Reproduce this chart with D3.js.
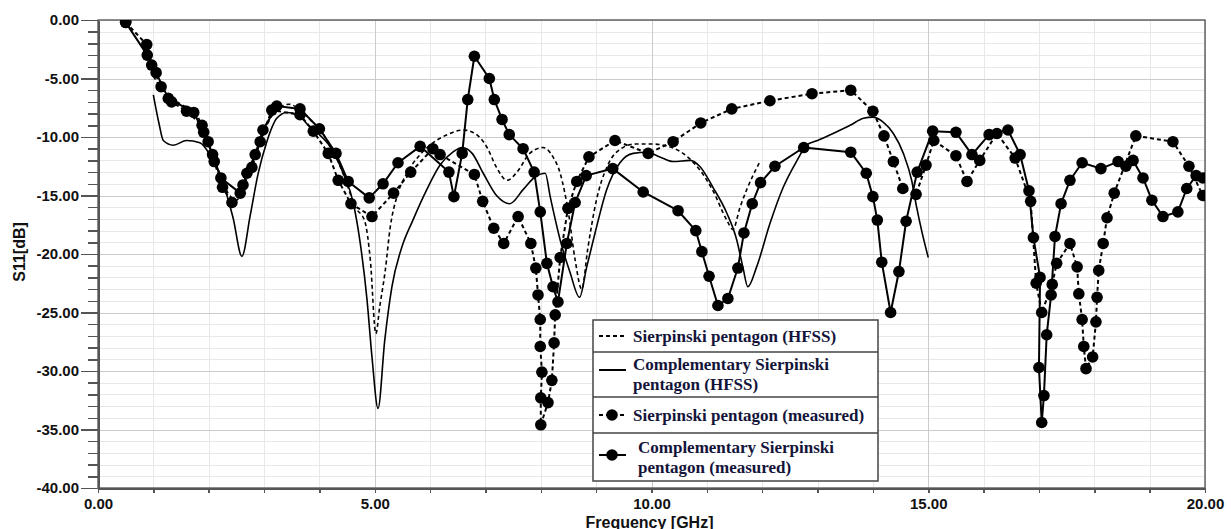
<!DOCTYPE html>
<html>
<head>
<meta charset="utf-8">
<script src="https://cdn.jsdelivr.net/npm/d3@7"></script>
<style>
  body {
    margin: 0;
    background: #ffffff;
  }

  svg {
    display: block;
  }

  .axis text {
    font-family: 'Liberation Sans', Arial, sans-serif;
    font-size: 15px;
    font-weight: bold;
    fill: #111111;
  }

  .axis-title {
    font-family: 'Liberation Sans', Arial, sans-serif;
    font-size: 16px;
    font-weight: bold;
    fill: #111111;
  }

  .axis path,
  .axis line {
    stroke: #555555;
    stroke-width: 1.5px;
    shape-rendering: crispEdges;
  }

  .axis .domain {
    stroke-width: 2px;
  }

  .grid path {
    stroke: none;
  }

  .grid-minor line {
    stroke: #e8e8e8;
    shape-rendering: crispEdges;
  }

  .grid-major line {
    stroke: #cbcbcb;
    shape-rendering: crispEdges;
  }

  .legend-text {
    font-family: 'Liberation Serif', 'Times New Roman', serif;
    font-size: 17px;
    font-weight: bold;
    fill: #14143a;
  }
</style>
</head>
<body>
<svg id="SVG" width="1231" height="529"></svg>
<script>
// S11 data (GHz, dB)
const hfssSierpFreq = [1.0, 1.2, 1.5, 1.75, 1.95, 2.15, 2.35, 2.5, 2.65, 2.85, 3.05, 3.25, 3.45, 3.65, 3.85, 4.05, 4.25, 4.45, 4.65, 4.82, 4.92, 5.02, 5.09, 5.19, 5.28, 5.4, 5.58, 5.82, 6.05, 6.31, 6.6, 6.81, 7.03, 7.2, 7.39, 7.57, 7.8, 8.04, 8.22, 8.35, 8.5, 8.62, 8.74, 8.85, 9.0, 9.2, 9.45, 9.7, 10.0, 10.3, 10.57, 10.87, 11.1, 11.36, 11.47, 11.6, 11.72, 11.96];
const hfssSierpDb = [-4.8, -6.2, -7.2, -7.9, -9.8, -12.5, -14.8, -15.4, -14.0, -11.5, -9.0, -7.6, -7.2, -7.7, -8.6, -9.6, -11.2, -13.4, -16.0, -17.2, -20.5, -26.8, -24.5, -21.4, -17.7, -15.1, -13.1, -11.5, -10.5, -9.8, -9.4, -9.7, -10.9, -12.6, -13.7, -13.0, -11.4, -10.9, -11.7, -13.1, -16.5, -20.5, -23.0, -19.5, -15.5, -12.5, -11.0, -10.6, -10.6, -10.8, -11.4, -12.8, -14.5, -17.1, -17.9, -16.0, -14.5, -12.1];

const hfssCompFreq = [1.0, 1.1, 1.18, 1.36, 1.6, 1.84, 2.02, 2.2, 2.33, 2.44, 2.6, 2.75, 2.89, 3.05, 3.23, 3.41, 3.61, 3.8, 4.0, 4.16, 4.43, 4.61, 4.72, 4.86, 4.95, 5.06, 5.18, 5.31, 5.49, 5.69, 5.94, 6.18, 6.41, 6.58, 6.76, 6.96, 7.2, 7.44, 7.68, 7.9, 8.08, 8.17, 8.35, 8.53, 8.7, 8.83, 8.98, 9.19, 9.43, 9.67, 9.92, 10.15, 10.39, 10.7, 10.87, 11.11, 11.36, 11.54, 11.65, 11.74, 11.9, 12.14, 12.38, 12.63, 12.8, 13.0, 13.28, 13.59, 13.83, 14.0, 14.18, 14.37, 14.55, 14.7, 14.79, 14.89, 15.0];
const hfssCompDb = [-6.4, -8.8, -10.3, -10.7, -10.3, -10.5, -11.5, -13.2, -15.0, -16.9, -20.2, -16.7, -13.2, -10.4, -8.4, -7.9, -8.1, -9.0, -9.8, -10.6, -13.1, -15.6, -18.5, -23.9, -28.8, -33.2, -27.4, -22.8, -19.4, -17.1, -14.5, -12.4, -11.3, -10.9, -11.4, -13.1, -15.0, -15.7, -14.5, -13.4, -13.1, -15.1, -18.8, -21.6, -23.7, -21.1, -18.2, -14.5, -12.2, -11.4, -11.3, -11.7, -12.1, -12.0, -12.5, -14.3, -16.5, -18.8, -21.1, -22.8, -21.1, -17.4, -14.3, -12.0, -10.7, -10.3, -9.7, -9.0, -8.4, -8.3, -8.7, -9.7, -11.4, -13.7, -16.0, -18.2, -20.3];

const measSierpFreq = [0.5, 0.88, 0.97, 1.14, 1.33, 1.6, 1.88, 1.99, 2.1, 2.25, 2.42, 2.62, 2.78, 2.93, 3.14, 3.65, 3.89, 4.16, 4.34, 4.57, 4.95, 5.34, 5.65, 6.05, 6.18, 6.8, 6.95, 7.15, 7.33, 7.59, 7.82, 7.91, 7.95, 7.99, 7.99, 8.02, 8.0, 8.0, 8.13, 8.2, 8.24, 8.26, 8.35, 8.49, 8.65, 8.87, 9.34, 9.94, 10.39, 10.89, 11.45, 12.14, 12.9, 13.6, 14.0, 14.2, 14.37, 14.54, 14.78, 14.96, 15.1, 15.5, 15.7, 15.93, 16.24, 16.57, 16.85, 16.95, 17.05, 17.24, 17.32, 17.56, 17.69, 17.72, 17.78, 17.81, 17.85, 17.97, 18.03, 18.05, 18.08, 18.16, 18.23, 18.36, 18.75, 19.42, 19.71, 19.96];
const measSierpDb = [-0.2, -2.1, -3.85, -5.7, -7.0, -7.8, -9.0, -10.4, -12.1, -14.3, -15.6, -14.1, -12.6, -10.4, -7.7, -8.1, -9.5, -11.4, -13.7, -15.7, -16.8, -14.8, -13.0, -11.0, -11.5, -13.2, -15.5, -17.8, -19.1, -16.8, -19.1, -21.2, -23.5, -25.6, -27.9, -30.1, -32.3, -34.6, -32.7, -30.8, -27.6, -25.2, -20.3, -16.1, -13.8, -11.7, -10.3, -11.4, -10.4, -8.8, -7.6, -6.9, -6.3, -6.0, -7.8, -9.9, -12.1, -14.4, -14.9, -12.4, -10.3, -11.6, -13.8, -12.0, -9.7, -11.8, -15.5, -22.5, -25.0, -22.6, -20.8, -19.1, -21.1, -23.4, -25.6, -27.9, -29.8, -28.8, -25.8, -23.7, -21.4, -19.1, -16.9, -14.8, -9.9, -10.4, -12.5, -15.0];

const measCompFreq = [0.5, 0.89, 1.05, 1.27, 1.73, 1.91, 2.07, 2.22, 2.57, 2.69, 2.84, 2.98, 3.23, 3.65, 4.0, 4.3, 4.52, 4.9, 5.15, 5.42, 5.82, 6.34, 6.43, 6.58, 6.68, 6.8, 7.07, 7.16, 7.3, 7.43, 7.68, 7.88, 7.99, 8.11, 8.22, 8.31, 8.47, 8.62, 8.82, 9.3, 9.85, 10.48, 10.8, 10.91, 11.04, 11.2, 11.38, 11.56, 11.67, 11.82, 11.97, 12.23, 12.75, 13.6, 13.88, 14.0, 14.08, 14.16, 14.32, 14.47, 14.6, 14.8, 15.08, 15.5, 15.79, 16.1, 16.44, 16.66, 16.82, 16.9, 17.02, 17.0, 17.05, 17.09, 17.14, 17.22, 17.29, 17.4, 17.56, 17.78, 18.12, 18.43, 18.57, 18.7, 18.88, 19.04, 19.24, 19.51, 19.67, 19.84, 19.96];
const measCompDb = [-0.2, -3.0, -4.5, -6.7, -7.9, -9.6, -11.5, -13.5, -14.8, -13.1, -11.5, -9.4, -7.35, -7.6, -9.3, -11.4, -13.8, -15.2, -14.0, -12.2, -10.8, -13.0, -15.1, -11.4, -6.8, -3.1, -5.0, -6.8, -8.5, -9.8, -11.0, -13.0, -16.4, -20.8, -22.8, -24.1, -19.1, -15.6, -13.3, -12.7, -14.7, -16.3, -18.0, -19.8, -21.9, -24.4, -23.8, -21.2, -18.2, -15.7, -13.9, -12.5, -10.9, -11.3, -13.1, -15.1, -17.1, -20.7, -25.0, -21.5, -17.2, -13.0, -9.5, -9.6, -11.5, -9.8, -9.4, -11.5, -14.6, -18.6, -22.0, -29.7, -34.4, -32.1, -26.9, -23.5, -18.5, -15.7, -13.7, -12.2, -12.7, -12.1, -12.5, -12.0, -13.5, -15.4, -16.8, -16.4, -14.4, -13.3, -13.5];

const xTicks = [0, 5, 10, 15, 20];
const yTicks = [0, -5, -10, -15, -20, -25, -30, -35, -40];

const legendLabels = [
  ['Sierpinski pentagon (HFSS)'],
  ['Complementary Sierpinski', 'pentagon (HFSS)'],
  ['Sierpinski pentagon (measured)'],
  ['Complementary Sierpinski', 'pentagon (measured)'],
];

const series = [
  { freq: hfssSierpFreq, db: hfssSierpDb, dash: '4,3', marker: false, width: 1.6 },
  { freq: hfssCompFreq, db: hfssCompDb, dash: null, marker: false, width: 1.6 },
  { freq: measSierpFreq, db: measSierpDb, dash: '4,3', marker: true, width: 2 },
  { freq: measCompFreq, db: measCompDb, dash: null, marker: true, width: 2 },
];

const svg = d3.select('#SVG');
const margin = { top: 20, right: 26, bottom: 41, left: 98 };
const width = +svg.attr('width') - margin.left - margin.right;
const height = +svg.attr('height') - margin.top - margin.bottom;

const x = d3.scaleLinear().domain([0, 20]).range([0, width]);
const y = d3.scaleLinear().domain([-40, 0]).range([height, 0]);

const g = svg
  .append('g')
  .attr('transform', 'translate(' + margin.left + ',' + margin.top + ')');

function setGrid() {
  g.append('g')
    .attr('class', 'grid grid-minor')
    .call(d3.axisLeft(y).tickValues(d3.range(-40, 1)).tickSize(-width).tickFormat(''));
  g.append('g')
    .attr('class', 'grid grid-minor')
    .attr('transform', 'translate(0,' + height + ')')
    .call(d3.axisBottom(x).tickValues(d3.range(0, 21)).tickSize(-height).tickFormat(''));
  g.append('g')
    .attr('class', 'grid grid-major')
    .call(d3.axisLeft(y).tickValues(yTicks).tickSize(-width).tickFormat(''));
  g.append('g')
    .attr('class', 'grid grid-major')
    .attr('transform', 'translate(0,' + height + ')')
    .call(d3.axisBottom(x).tickValues(xTicks).tickSize(-height).tickFormat(''));

  g.append('rect')
    .attr('width', width)
    .attr('height', height)
    .attr('fill', 'none')
    .attr('stroke', '#666666')
    .attr('stroke-width', 1.5);
}

function setAxes() {
  g.append('g')
    .attr('class', 'axis')
    .call(d3.axisLeft(y).tickValues(d3.range(-40, 1)).tickSize(10).tickSizeOuter(0).tickFormat(''));
  g.append('g')
    .attr('class', 'axis')
    .call(
      d3.axisLeft(y)
        .tickValues(yTicks)
        .tickSize(17)
        .tickSizeOuter(0)
        .tickPadding(2)
        .tickFormat((d) => d.toFixed(2))
    );

  g.append('g')
    .attr('class', 'axis')
    .attr('transform', 'translate(0,' + height + ')')
    .call(d3.axisBottom(x).tickValues(d3.range(0, 21)).tickSize(5).tickSizeOuter(0).tickFormat(''));
  g.append('g')
    .attr('class', 'axis')
    .attr('transform', 'translate(0,' + height + ')')
    .call(
      d3.axisBottom(x)
        .tickValues(xTicks)
        .tickSize(5)
        .tickSizeOuter(0)
        .tickPadding(5)
        .tickFormat((d) => d.toFixed(2))
    );

  svg
    .append('text')
    .attr('class', 'axis-title')
    .attr('text-anchor', 'middle')
    .attr('x', margin.left + width / 2 - 2)
    .attr('y', 527.5)
    .text('Frequency [GHz]');

  svg
    .append('text')
    .attr('class', 'axis-title')
    .attr('text-anchor', 'middle')
    .attr('transform', 'translate(25,252) rotate(-90)')
    .text('S11[dB]');
}

function drawSeries() {
  svg
    .append('clipPath')
    .attr('id', 'plot-clip')
    .append('rect')
    .attr('width', width)
    .attr('height', height + 8);

  const plot = g.append('g').attr('clip-path', 'url(#plot-clip)');

  series.forEach((s) => {
    const pts = d3.zip(s.freq, s.db);
    const line = d3
      .line()
      .x((d) => x(d[0]))
      .y((d) => y(d[1]));
    if (!s.marker) {
      line.curve(d3.curveMonotoneX);
    }

    plot
      .append('path')
      .datum(pts)
      .attr('fill', 'none')
      .attr('stroke', '#000000')
      .attr('stroke-width', s.width)
      .attr('stroke-dasharray', s.dash)
      .attr('stroke-linejoin', 'round')
      .attr('d', line);

    if (s.marker) {
      plot
        .append('g')
        .selectAll('circle')
        .data(pts)
        .enter()
        .append('circle')
        .attr('cx', (d) => x(d[0]))
        .attr('cy', (d) => y(d[1]))
        .attr('r', 5.8)
        .attr('fill', '#000000');
    }
  });
}

function drawLegend() {
  const box = { x: 593, y: 320, w: 285, h: 161 };
  const rows = [320, 352, 397, 433, 481];
  const symY = [336, 370, 415, 455];
  const textX = [633, 633, 633, 638];

  const legend = svg.append('g').attr('class', 'legend');
  legend
    .append('rect')
    .attr('x', box.x)
    .attr('y', box.y)
    .attr('width', box.w)
    .attr('height', box.h)
    .attr('fill', '#ffffff')
    .attr('stroke', '#444444')
    .attr('stroke-width', 1.5);

  legend
    .selectAll('line.sep')
    .data(rows.slice(1, -1))
    .enter()
    .append('line')
    .attr('class', 'sep')
    .attr('x1', box.x)
    .attr('x2', box.x + box.w)
    .attr('y1', (d) => d)
    .attr('y2', (d) => d)
    .attr('stroke', '#444444')
    .attr('stroke-width', 1.5);

  legendLabels.forEach((lines, i) => {
    const s = series[i];
    const mid = (rows[i] + rows[i + 1]) / 2;

    legend
      .append('line')
      .attr('x1', 599)
      .attr('x2', 626)
      .attr('y1', symY[i])
      .attr('y2', symY[i])
      .attr('stroke', '#000000')
      .attr('stroke-width', 2)
      .attr('stroke-dasharray', s.dash);

    if (s.marker) {
      legend
        .append('circle')
        .attr('cx', 612)
        .attr('cy', symY[i])
        .attr('r', 5.8)
        .attr('fill', '#000000');
    }

    const lh = 20;
    const top = mid - ((lines.length - 1) * lh) / 2;
    lines.forEach((t, j) => {
      legend
        .append('text')
        .attr('class', 'legend-text')
        .attr('x', textX[i])
        .attr('y', top + j * lh)
        .attr('dy', '0.35em')
        .text(t);
    });
  });
}

setGrid();
setAxes();
drawSeries();
drawLegend();
</script>
</body>
</html>
